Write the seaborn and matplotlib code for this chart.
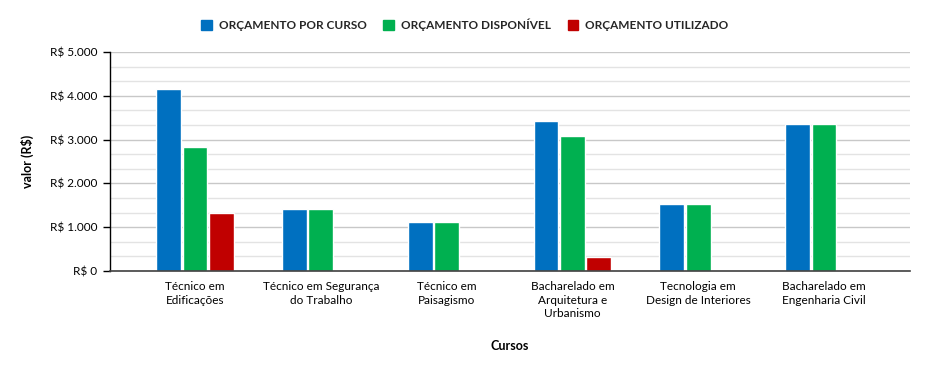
import matplotlib
matplotlib.use("Agg")
import matplotlib.pyplot as plt
import seaborn as sns
import pandas as pd
import numpy as np
from matplotlib.ticker import MultipleLocator, FuncFormatter
from matplotlib.patches import Patch

cursos = ["Técnico em\nEdificações", "Técnico em Segurança\ndo Trabalho", "Técnico em\nPaisagismo",
          "Bacharelado em\nArquitetura e\nUrbanismo", "Tecnologia em\nDesign de Interiores",
          "Bacharelado em\nEngenharia Civil"]
orc_curso = [4150, 1410, 1120, 3420, 1520, 3350]
orc_disp = [2830, 1410, 1120, 3075, 1520, 3350]
orc_util = [1325, 0, 0, 320, 0, 0]
series = ["ORÇAMENTO POR CURSO", "ORÇAMENTO DISPONÍVEL", "ORÇAMENTO UTILIZADO"]
colors = ["#0070C0", "#00B050", "#C00000"]

rows = []
for s, vals in zip(series, [orc_curso, orc_disp, orc_util]):
    for c, v in zip(cursos, vals):
        rows.append({"Curso": c, "Série": s, "Valor": v})
df = pd.DataFrame(rows)

sns.set_theme(style="white")
plt.rcParams['font.family'] = ['Lato', 'DejaVu Sans']

fig = plt.figure(figsize=(9.28, 3.74), dpi=100)
ax = fig.add_axes([110/928, 1-271/374, 800/928, 219/374])

sns.barplot(data=df, x="Curso", y="Valor", hue="Série", palette=colors,
            width=0.63, gap=0.06, ax=ax, legend=False, saturation=1)

ax.set_xlim(-0.676, 5.684)
ax.set_ylim(0, 5000)
ax.yaxis.set_major_locator(MultipleLocator(1000))
ax.yaxis.set_minor_locator(MultipleLocator(1000/3))
ax.yaxis.set_major_formatter(FuncFormatter(lambda v, p: "R$ " + (f"{int(v):,}".replace(",", "."))))
ax.grid(axis="y", which="major", color="#C8C8C8", linewidth=1)
ax.grid(axis="y", which="minor", color="#E3E3E3", linewidth=1)
ax.set_axisbelow(True)

for s in ["top", "right"]:
    ax.spines[s].set_visible(False)
ax.spines["left"].set_color("#000000")
ax.spines["left"].set_linewidth(1)
ax.spines["bottom"].set_color("#404040")
ax.spines["bottom"].set_linewidth(1.2)

ax.tick_params(axis="y", which="major", left=True, length=5, width=1, color="#000000",
               labelsize=8.5, labelcolor="#000000", pad=4)
ax.tick_params(axis="y", which="minor", left=False)
ax.tick_params(axis="x", bottom=False, labelsize=8.5, labelcolor="#000000", pad=1)
for t in ax.get_xticklabels():
    t.set_linespacing(1.32)

ax.set_xlabel("Cursos", fontsize=9, fontweight="bold", color="#000000")
ax.set_ylabel("valor (R$)", fontsize=9, fontweight="bold", color="#000000")
ax.xaxis.set_label_coords(0.5, (271-340)/219)
ax.yaxis.set_label_coords((34-110)/800, 0.5)

handles = [Patch(facecolor=c, edgecolor=c) for c in colors]
fig.legend(handles, series, loc="center", bbox_to_anchor=(465/928, 1-25/374), ncol=3,
           frameon=False, prop={"weight": "bold", "size": 8.5}, handlelength=0.9, handleheight=0.9,
           columnspacing=1.4, handletextpad=0.6, labelcolor="#262626")

fig.savefig("out.png", dpi=100)
